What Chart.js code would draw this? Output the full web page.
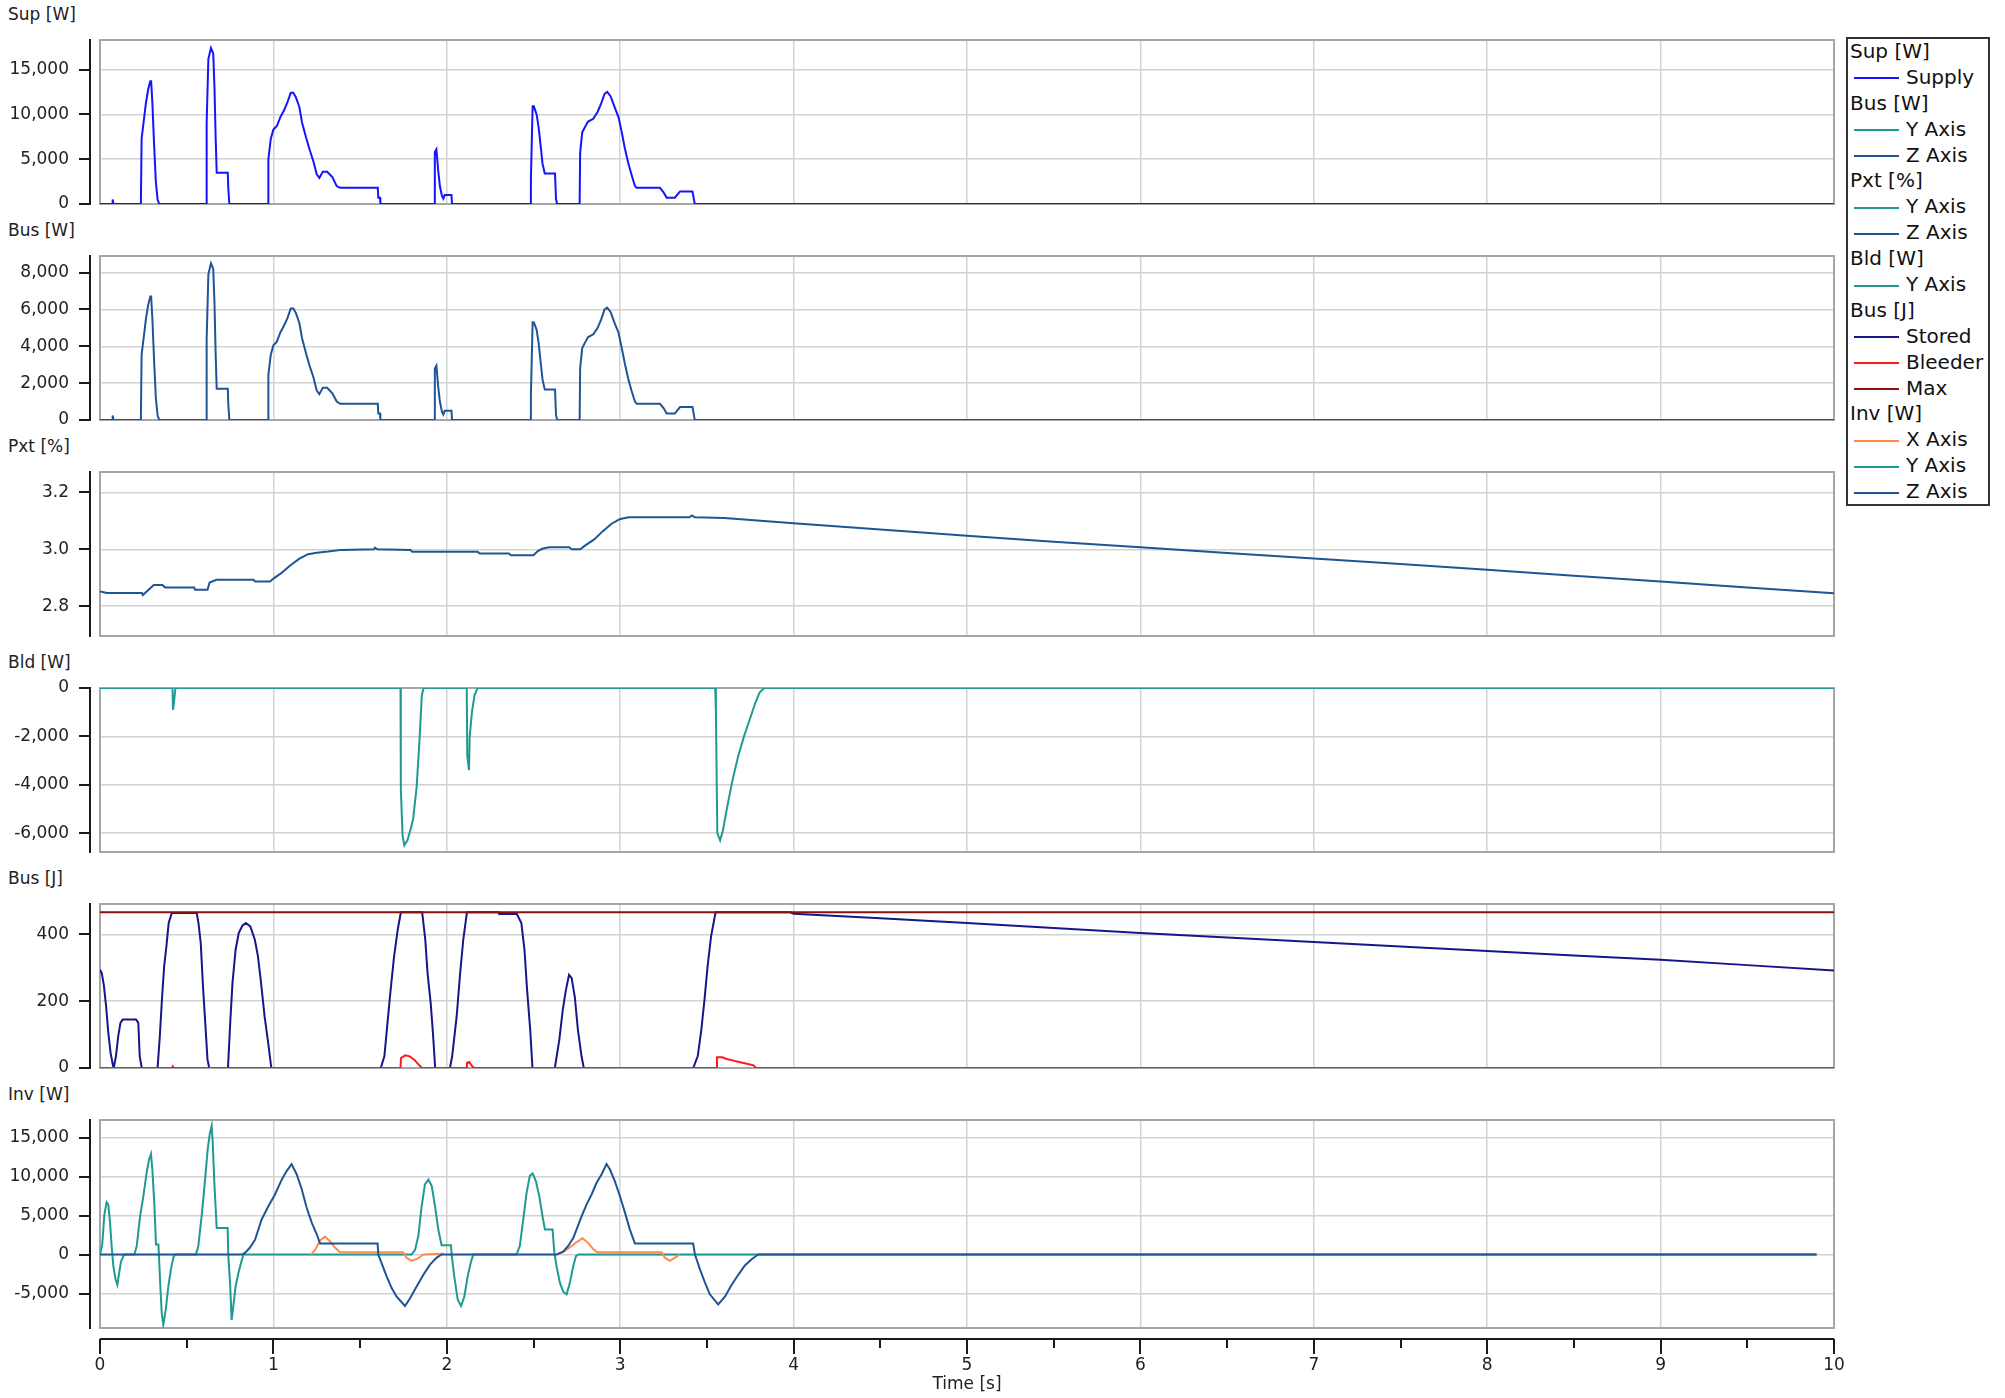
<!DOCTYPE html>
<html>
<head>
<meta charset="utf-8">
<title>Drive power log</title>
<script src="https://cdn.jsdelivr.net/npm/chart.js@4.4.0/dist/chart.umd.min.js"></script>
<style>
  html, body { margin: 0; padding: 0; background: #fff; }
  body { width: 2005px; height: 1398px; position: relative; overflow: hidden; font-family: 'DejaVu Sans', sans-serif; }
  canvas { position: absolute; left: 0; }
  .ttl { position: absolute; left: 8px; font-size: 17px; line-height: 20px; color: #222; }
  #legend { position: absolute; left: 1846px; top: 37px; width: 144px; height: 469px; border: 2px solid #333;
            box-sizing: border-box; font-size: 20px; color: #111; }
  #legend div { height: 25.9px; line-height: 25.9px; white-space: nowrap; }
  #legend .h { padding-left: 2px; }
  #legend .it span { display: inline-block; width: 45px; height: 0; border-top: 2px solid; vertical-align: middle; margin: 0 7px 0 6px; }
</style>
</head>
<body>
<div id="legend"></div>
<script>
// axis ticks
const timeTicks = [0, 1, 2, 3, 4, 5, 6, 7, 8, 9, 10];
const supTicks = [0, 5000, 10000, 15000];
const busPowerTicks = [0, 2000, 4000, 6000, 8000];
const pxtTicks = [2.8, 3.0, 3.2];
const bleedTicks = [-6000, -4000, -2000, 0];
const energyTicks = [0, 200, 400];
const invTicks = [-5000, 0, 5000, 10000, 15000];

// [time s, value] samples per trace
const supply = [[0,0],[0.07,0],[0.073,500],[0.078,0],
  [0.233,0],[0.236,500],[0.24,7300],[0.255,9700],[0.265,11300],[0.278,12800],[0.29,13700],[0.295,13700],[0.302,11300],[0.312,6600],[0.322,2500],[0.332,500],[0.342,0],
  [0.612,0],[0.615,9000],[0.625,16200],[0.64,17400],[0.653,16800],[0.66,13100],[0.667,7400],[0.673,3500],[0.737,3500],[0.74,1700],[0.746,0],
  [0.969,0],[0.971,5000],[0.985,7300],[1.0,8300],[1.02,8700],[1.04,9700],[1.06,10400],[1.08,11300],[1.1,12400],[1.115,12400],[1.13,11900],[1.15,10800],[1.165,9100],[1.19,7300],[1.21,6000],[1.23,4800],[1.25,3300],[1.265,2900],[1.285,3600],[1.31,3600],[1.34,3000],[1.365,2000],[1.385,1800],[1.602,1800],[1.605,700],[1.615,700],[1.617,0],
  [1.928,0],[1.931,5800],[1.94,6100],[1.95,3800],[1.96,2000],[1.972,900],[1.98,600],[1.988,1000],[2.027,1000],[2.03,0],
  [2.482,0],[2.485,2800],[2.495,10900],[2.502,10900],[2.518,10000],[2.53,8500],[2.54,6700],[2.552,4500],[2.565,3400],[2.624,3400],[2.63,500],[2.637,0],
  [2.766,0],[2.769,5700],[2.781,8000],[2.797,8600],[2.815,9200],[2.845,9500],[2.87,10300],[2.89,11200],[2.91,12300],[2.925,12500],[2.945,12000],[2.97,10700],[2.99,9700],[3.008,8100],[3.027,6200],[3.046,4600],[3.065,3300],[3.085,2000],[3.095,1800],[3.229,1800],[3.25,1300],[3.268,700],[3.315,700],[3.345,1400],[3.417,1400],[3.43,0],[10,0]];

const busPowerZ = [[0,0],[0.07,0],[0.073,250],[0.078,0],
  [0.233,0],[0.236,250],[0.24,3550],[0.255,4700],[0.265,5500],[0.278,6250],[0.29,6700],[0.295,6700],[0.302,5500],[0.312,3200],[0.322,1200],[0.332,250],[0.342,0],
  [0.612,0],[0.615,4400],[0.625,7900],[0.64,8500],[0.653,8200],[0.66,6400],[0.667,3600],[0.673,1700],[0.737,1700],[0.74,850],[0.746,0],
  [0.969,0],[0.971,2450],[0.985,3550],[1.0,4050],[1.02,4250],[1.04,4750],[1.06,5100],[1.08,5500],[1.1,6050],[1.115,6050],[1.13,5800],[1.15,5250],[1.165,4450],[1.19,3550],[1.21,2900],[1.23,2350],[1.25,1600],[1.265,1400],[1.285,1750],[1.31,1750],[1.34,1450],[1.365,1000],[1.385,880],[1.602,880],[1.605,350],[1.615,350],[1.617,0],
  [1.928,0],[1.931,2800],[1.94,2950],[1.95,1850],[1.96,1000],[1.972,450],[1.98,300],[1.988,500],[2.027,500],[2.03,0],
  [2.482,0],[2.485,1350],[2.495,5300],[2.502,5300],[2.518,4900],[2.53,4150],[2.54,3250],[2.552,2200],[2.565,1650],[2.624,1650],[2.63,250],[2.637,0],
  [2.766,0],[2.769,2800],[2.781,3900],[2.797,4200],[2.815,4500],[2.845,4650],[2.87,5000],[2.89,5450],[2.91,6000],[2.925,6100],[2.945,5850],[2.97,5200],[2.99,4750],[3.008,3950],[3.027,3050],[3.046,2250],[3.065,1600],[3.085,1000],[3.095,880],[3.229,880],[3.25,650],[3.268,350],[3.315,350],[3.345,700],[3.417,700],[3.43,0],[10,0]];

const pxtZ = [[0,2.852],[0.04,2.846],[0.242,2.846],[0.247,2.839],[0.285,2.86],[0.31,2.874],[0.36,2.874],[0.376,2.866],[0.543,2.866],[0.548,2.858],[0.62,2.858],[0.632,2.883],[0.672,2.893],[0.885,2.893],[0.895,2.887],[0.981,2.887],
  [1.0,2.897],[1.045,2.916],[1.095,2.942],[1.15,2.967],[1.2,2.983],[1.25,2.988],[1.315,2.992],[1.393,2.998],[1.58,3.0],[1.586,3.006],[1.6,3.0],[1.79,2.998],[1.8,2.991],[2.178,2.991],[2.19,2.985],[2.358,2.985],[2.37,2.979],[2.5,2.979],
  [2.525,2.994],[2.55,3.002],[2.59,3.007],[2.705,3.007],[2.72,3.0],[2.77,3.0],[2.795,3.012],[2.85,3.035],[2.9,3.064],[2.95,3.09],[3.0,3.107],[3.05,3.113],[3.4,3.113],[3.413,3.119],[3.43,3.113],
  [3.6,3.11],[4.0,3.092],[4.5,3.07],[5.0,3.048],[5.5,3.027],[6.0,3.007],[6.5,2.987],[7.0,2.968],[7.5,2.948],[8.0,2.928],[8.5,2.907],[9.0,2.887],[9.5,2.866],[10,2.845]];

const bleedY = [[0,0],[0.418,0],[0.421,-900],[0.428,-500],[0.435,0],
  [1.733,0],[1.735,-4200],[1.745,-6100],[1.755,-6500],[1.773,-6300],[1.793,-5800],[1.806,-5400],[1.826,-4100],[1.843,-2100],[1.856,-300],[1.866,0],
  [2.115,0],[2.118,-2800],[2.128,-3400],[2.132,-2000],[2.145,-1000],[2.16,-300],[2.177,0],
  [3.548,0],[3.552,-1000],[3.56,-6000],[3.576,-6300],[3.592,-5900],[3.615,-5000],[3.648,-3800],[3.681,-2800],[3.714,-2000],[3.747,-1300],[3.78,-600],[3.803,-200],[3.83,0],[10,0]];

const stored = [[0,294],[0.01,284],[0.022,249],[0.035,185],[0.048,105],[0.061,45],[0.074,10],[0.079,0],[0.092,35],[0.105,95],[0.118,135],[0.131,145],[0.208,145],[0.221,135],[0.229,35],[0.241,0],
  [0.332,0],[0.345,95],[0.357,204],[0.37,304],[0.383,364],[0.396,434],[0.414,464],[0.558,464],[0.568,434],[0.581,374],[0.594,244],[0.607,135],[0.62,25],[0.63,0],
  [0.738,0],[0.751,135],[0.764,254],[0.782,354],[0.8,404],[0.821,426],[0.841,434],[0.867,424],[0.893,384],[0.911,334],[0.929,254],[0.949,155],[0.97,75],[0.988,0],
  [1.619,0],[1.64,35],[1.658,135],[1.676,234],[1.696,334],[1.717,414],[1.735,466],[1.858,466],[1.876,384],[1.889,284],[1.907,195],[1.92,105],[1.933,0],
  [2.018,0],[2.031,35],[2.057,155],[2.077,284],[2.095,384],[2.116,466],[2.3,466],[2.302,461],[2.404,461],[2.43,434],[2.448,354],[2.463,234],[2.481,115],[2.494,0],
  [2.623,0],[2.649,85],[2.669,175],[2.687,234],[2.705,279],[2.72,269],[2.738,214],[2.756,115],[2.777,35],[2.79,0],
  [3.421,0],[3.447,35],[3.468,115],[3.486,204],[3.504,304],[3.524,394],[3.55,466],[3.98,466],[4.0,462],[4.5,448],[5.0,434],[5.5,419],[6.0,404],[6.5,391],[7.0,377],[7.5,364],[8.0,350],[8.5,337],[9.0,324],[9.5,308],[10,292]];

const bleeder = [[0,0],[0.415,0],[0.42,5],[0.425,0],[1.733,0],[1.736,30],[1.76,38],[1.786,35],[1.812,25],[1.838,10],[1.856,0],
  [2.114,0],[2.116,15],[2.129,18],[2.147,5],[2.16,0],[3.556,0],[3.558,32],[3.589,32],[3.614,27],[3.653,22],[3.692,17],[3.73,13],[3.769,8],[3.783,0],[10,0]];

const maxEnergy = [[0,466],[10,466]];

const invX = [[1.217,0],[1.24,600],[1.269,1800],[1.298,2300],[1.326,1700],[1.355,900],[1.384,300],[1.749,300],[1.768,-400],[1.797,-800],[1.826,-600],[1.865,0],[1.98,100],
  [2.3,null],
  [2.633,0],[2.672,300],[2.72,1100],[2.749,1600],[2.783,2100],[2.815,1500],[2.844,700],[2.868,300],[3.239,300],[3.258,-400],[3.287,-800],[3.316,-400],[3.344,0]];

const invY = [[0,0],[0.013,1300],[0.025,5100],[0.038,6700],[0.048,6400],[0.058,4100],[0.067,1100],[0.077,-1500],[0.09,-3200],[0.1,-3900],[0.11,-2400],[0.121,-900],[0.135,-200],[0.14,0],
  [0.198,0],[0.212,1100],[0.231,4900],[0.25,7500],[0.269,10500],[0.283,12200],[0.294,12900],[0.302,10900],[0.313,6600],[0.323,1300],[0.337,1300],[0.348,-4100],[0.356,-7500],[0.365,-9000],[0.379,-7100],[0.394,-4100],[0.409,-1900],[0.423,-400],[0.433,0],
  [0.553,0],[0.567,1100],[0.586,4900],[0.606,9600],[0.621,13500],[0.634,15600],[0.644,16500],[0.65,14400],[0.659,9400],[0.673,3400],[0.736,3400],[0.74,-200],[0.75,-3600],[0.759,-8400],[0.769,-6600],[0.782,-4100],[0.798,-2400],[0.813,-1100],[0.827,0],
  [1.797,0],[1.817,600],[1.836,2400],[1.855,6200],[1.874,9000],[1.894,9600],[1.913,8800],[1.932,6200],[1.951,3200],[1.97,1200],[2.024,1200],[2.028,0],[2.043,-2800],[2.063,-5800],[2.082,-6600],[2.101,-5400],[2.12,-2800],[2.14,-900],[2.153,0],
  [2.402,0],[2.421,1100],[2.441,4500],[2.46,7900],[2.479,10100],[2.495,10400],[2.514,9400],[2.533,7500],[2.552,4900],[2.566,3200],[2.61,3200],[2.62,300],[2.633,-1500],[2.652,-3600],[2.672,-4800],[2.691,-5100],[2.71,-3600],[2.729,-1500],[2.745,-200],[2.758,0],[9.9,0]];

const invZ = [[0,0],[0.817,0],[0.836,200],[0.865,900],[0.894,1900],[0.932,4500],[0.971,6200],[1.009,7700],[1.048,9600],[1.076,10700],[1.105,11600],[1.134,10300],[1.163,8400],[1.192,6000],[1.221,4100],[1.25,2600],[1.269,1400],[1.601,1400],[1.605,0],
  [1.624,-1100],[1.653,-2800],[1.682,-4300],[1.711,-5400],[1.759,-6600],[1.788,-5600],[1.826,-4100],[1.865,-2600],[1.903,-1300],[1.942,-400],[1.97,0],
  [2.633,0],[2.672,400],[2.7,1100],[2.729,2100],[2.748,3200],[2.777,4900],[2.806,6400],[2.835,7700],[2.864,9200],[2.893,10300],[2.921,11600],[2.941,10900],[2.969,9400],[2.998,7500],[3.027,5400],[3.056,3200],[3.085,1400],[3.421,1400],[3.431,0],
  [3.46,-1900],[3.489,-3600],[3.517,-5100],[3.565,-6400],[3.604,-5400],[3.642,-3900],[3.681,-2600],[3.719,-1400],[3.758,-600],[3.796,0],[9.9,0]];

const C = {
  blue: '#1414ff', teal: '#1f9a92', steel: '#1f5495', navy: '#16168a',
  red: '#ff1a1a', maroon: '#8b1010', orange: '#ff8a4c'
};

const legendRows = [
  ['Sup [W]'], ['Supply', C.blue],
  ['Bus [W]'], ['Y Axis', C.teal], ['Z Axis', C.steel],
  ['Pxt [%]'], ['Y Axis', C.teal], ['Z Axis', C.steel],
  ['Bld [W]'], ['Y Axis', C.teal],
  ['Bus [J]'], ['Stored', C.navy], ['Bleeder', C.red], ['Max', C.maroon],
  ['Inv [W]'], ['X Axis', C.orange], ['Y Axis', C.teal], ['Z Axis', C.steel]
];

const legendBox = document.getElementById('legend');
legendRows.forEach(([label, color]) => {
  const row = document.createElement('div');
  if (color) {
    row.className = 'it';
    const sw = document.createElement('span');
    sw.style.borderTopColor = color;
    row.appendChild(sw);
    row.appendChild(document.createTextNode(label));
  } else {
    row.className = 'h';
    row.textContent = label;
  }
  legendBox.appendChild(row);
});

const FONT = { family: "'DejaVu Sans', sans-serif", size: 17 };
const GRID = '#d2d2d2';
const PLOT_RIGHT = 1834;

// gray plot frame, offset black value axis and the time axis ruler
const axisDeco = {
  id: 'axisDeco',
  beforeDatasetsDraw(chart, args, opts) {
    const { ctx, chartArea: a, scales: { x, y } } = chart;
    ctx.save();
    ctx.strokeStyle = '#a6a6a6';
    ctx.lineWidth = 2;
    ctx.strokeRect(a.left, a.top, a.right - a.left, a.bottom - a.top);
    ctx.strokeStyle = '#1a1a1a';
    ctx.beginPath();
    const ax = a.left - 10;
    ctx.moveTo(ax, a.top - 1);
    ctx.lineTo(ax, a.bottom + 1);
    y.ticks.forEach(t => {
      const py = Math.round(y.getPixelForValue(t.value));
      ctx.moveTo(ax - 11, py);
      ctx.lineTo(ax, py);
    });
    if (opts.time) {
      const ay = a.bottom + 11;
      ctx.moveTo(a.left, ay);
      ctx.lineTo(a.right, ay);
      for (let i = 0; i <= 20; i++) {
        const px = Math.round(x.getPixelForValue(i / 2));
        ctx.moveTo(px, ay);
        ctx.lineTo(px, ay + (i % 2 ? 9 : 15));
      }
    }
    ctx.stroke();
    ctx.restore();
  }
};

const toXY = pts => pts.map(p => ({ x: p[0], y: p[1] }));
const asTicks = vals => s => { s.ticks = vals.map(v => ({ value: v })); };

function addPanel(title, top, yMin, yMax, yTicks, fmt, sets, withTime) {
  const h = withTime ? 292 : 192;
  const cv = document.createElement('canvas');
  cv.width = 1860;
  cv.height = h;
  cv.style.top = (top - 14) + 'px';
  document.body.appendChild(cv);

  const t = document.createElement('div');
  t.className = 'ttl';
  t.textContent = title;
  t.style.top = (top - 36) + 'px';
  document.body.appendChild(t);

  const chart = new Chart(cv, {
    type: 'line',
    data: {
      datasets: sets.map(s => ({
        data: toXY(s.data),
        borderColor: s.color,
        borderWidth: 2,
        pointRadius: 0,
        tension: 0,
        fill: false
      }))
    },
    options: {
      responsive: false,
      animation: false,
      events: [],
      layout: { padding: { left: 0, right: 26, top: 14, bottom: withTime ? 0 : 14 } },
      plugins: { legend: { display: false }, tooltip: { enabled: false }, axisDeco: { time: withTime } },
      scales: {
        x: {
          type: 'linear', min: 0, max: 10,
          afterBuildTicks: asTicks(timeTicks),
          afterFit: s => { s.height = withTime ? 70 : 0; },
          grid: { color: GRID, lineWidth: 1.5, drawTicks: withTime, tickLength: 24, tickColor: 'rgba(0,0,0,0)' },
          border: { display: false },
          ticks: { display: withTime, padding: 3, color: '#222', font: FONT, maxRotation: 0, autoSkip: false },
          title: { display: withTime, text: 'Time [s]', color: '#222', font: FONT, padding: { top: 0, bottom: 3 } }
        },
        y: {
          min: yMin, max: yMax,
          afterBuildTicks: asTicks(yTicks),
          afterFit: s => { s.width = 100; },
          grid: { color: GRID, lineWidth: 1.5, drawTicks: true, tickLength: 28, tickColor: 'rgba(0,0,0,0)' },
          border: { display: false },
          ticks: { padding: 3, color: '#222', font: FONT, callback: fmt }
        }
      }
    },
    plugins: [axisDeco]
  });

  // keep every plot ending on the same right edge
  const dx = chart.chartArea.right - PLOT_RIGHT;
  if (Math.abs(dx) > 0.5) {
    chart.options.layout.padding.right += dx;
    chart.update();
  }
}

const watts = v => v.toLocaleString('en-US');
const oneDp = v => v.toFixed(1);

addPanel('Sup [W]', 40, 0, 18300, supTicks, watts, [{ data: supply, color: C.blue }]);
addPanel('Bus [W]', 256, 0, 8900, busPowerTicks, watts, [{ data: busPowerZ, color: C.steel }]);
addPanel('Pxt [%]', 472, 2.695, 3.272, pxtTicks, oneDp, [{ data: pxtZ, color: C.steel }]);
addPanel('Bld [W]', 688, -6780, 0, bleedTicks, watts, [{ data: bleedY, color: C.teal }]);
addPanel('Bus [J]', 904, 0, 491, energyTicks, watts, [
  { data: maxEnergy, color: C.maroon },
  { data: bleeder, color: C.red },
  { data: stored, color: C.navy }
]);
addPanel('Inv [W]', 1120, -9420, 17250, invTicks, watts, [
  { data: invZ, color: C.steel },
  { data: invX, color: C.orange },
  { data: invY, color: C.teal }
], true);
</script>
</body>
</html>
